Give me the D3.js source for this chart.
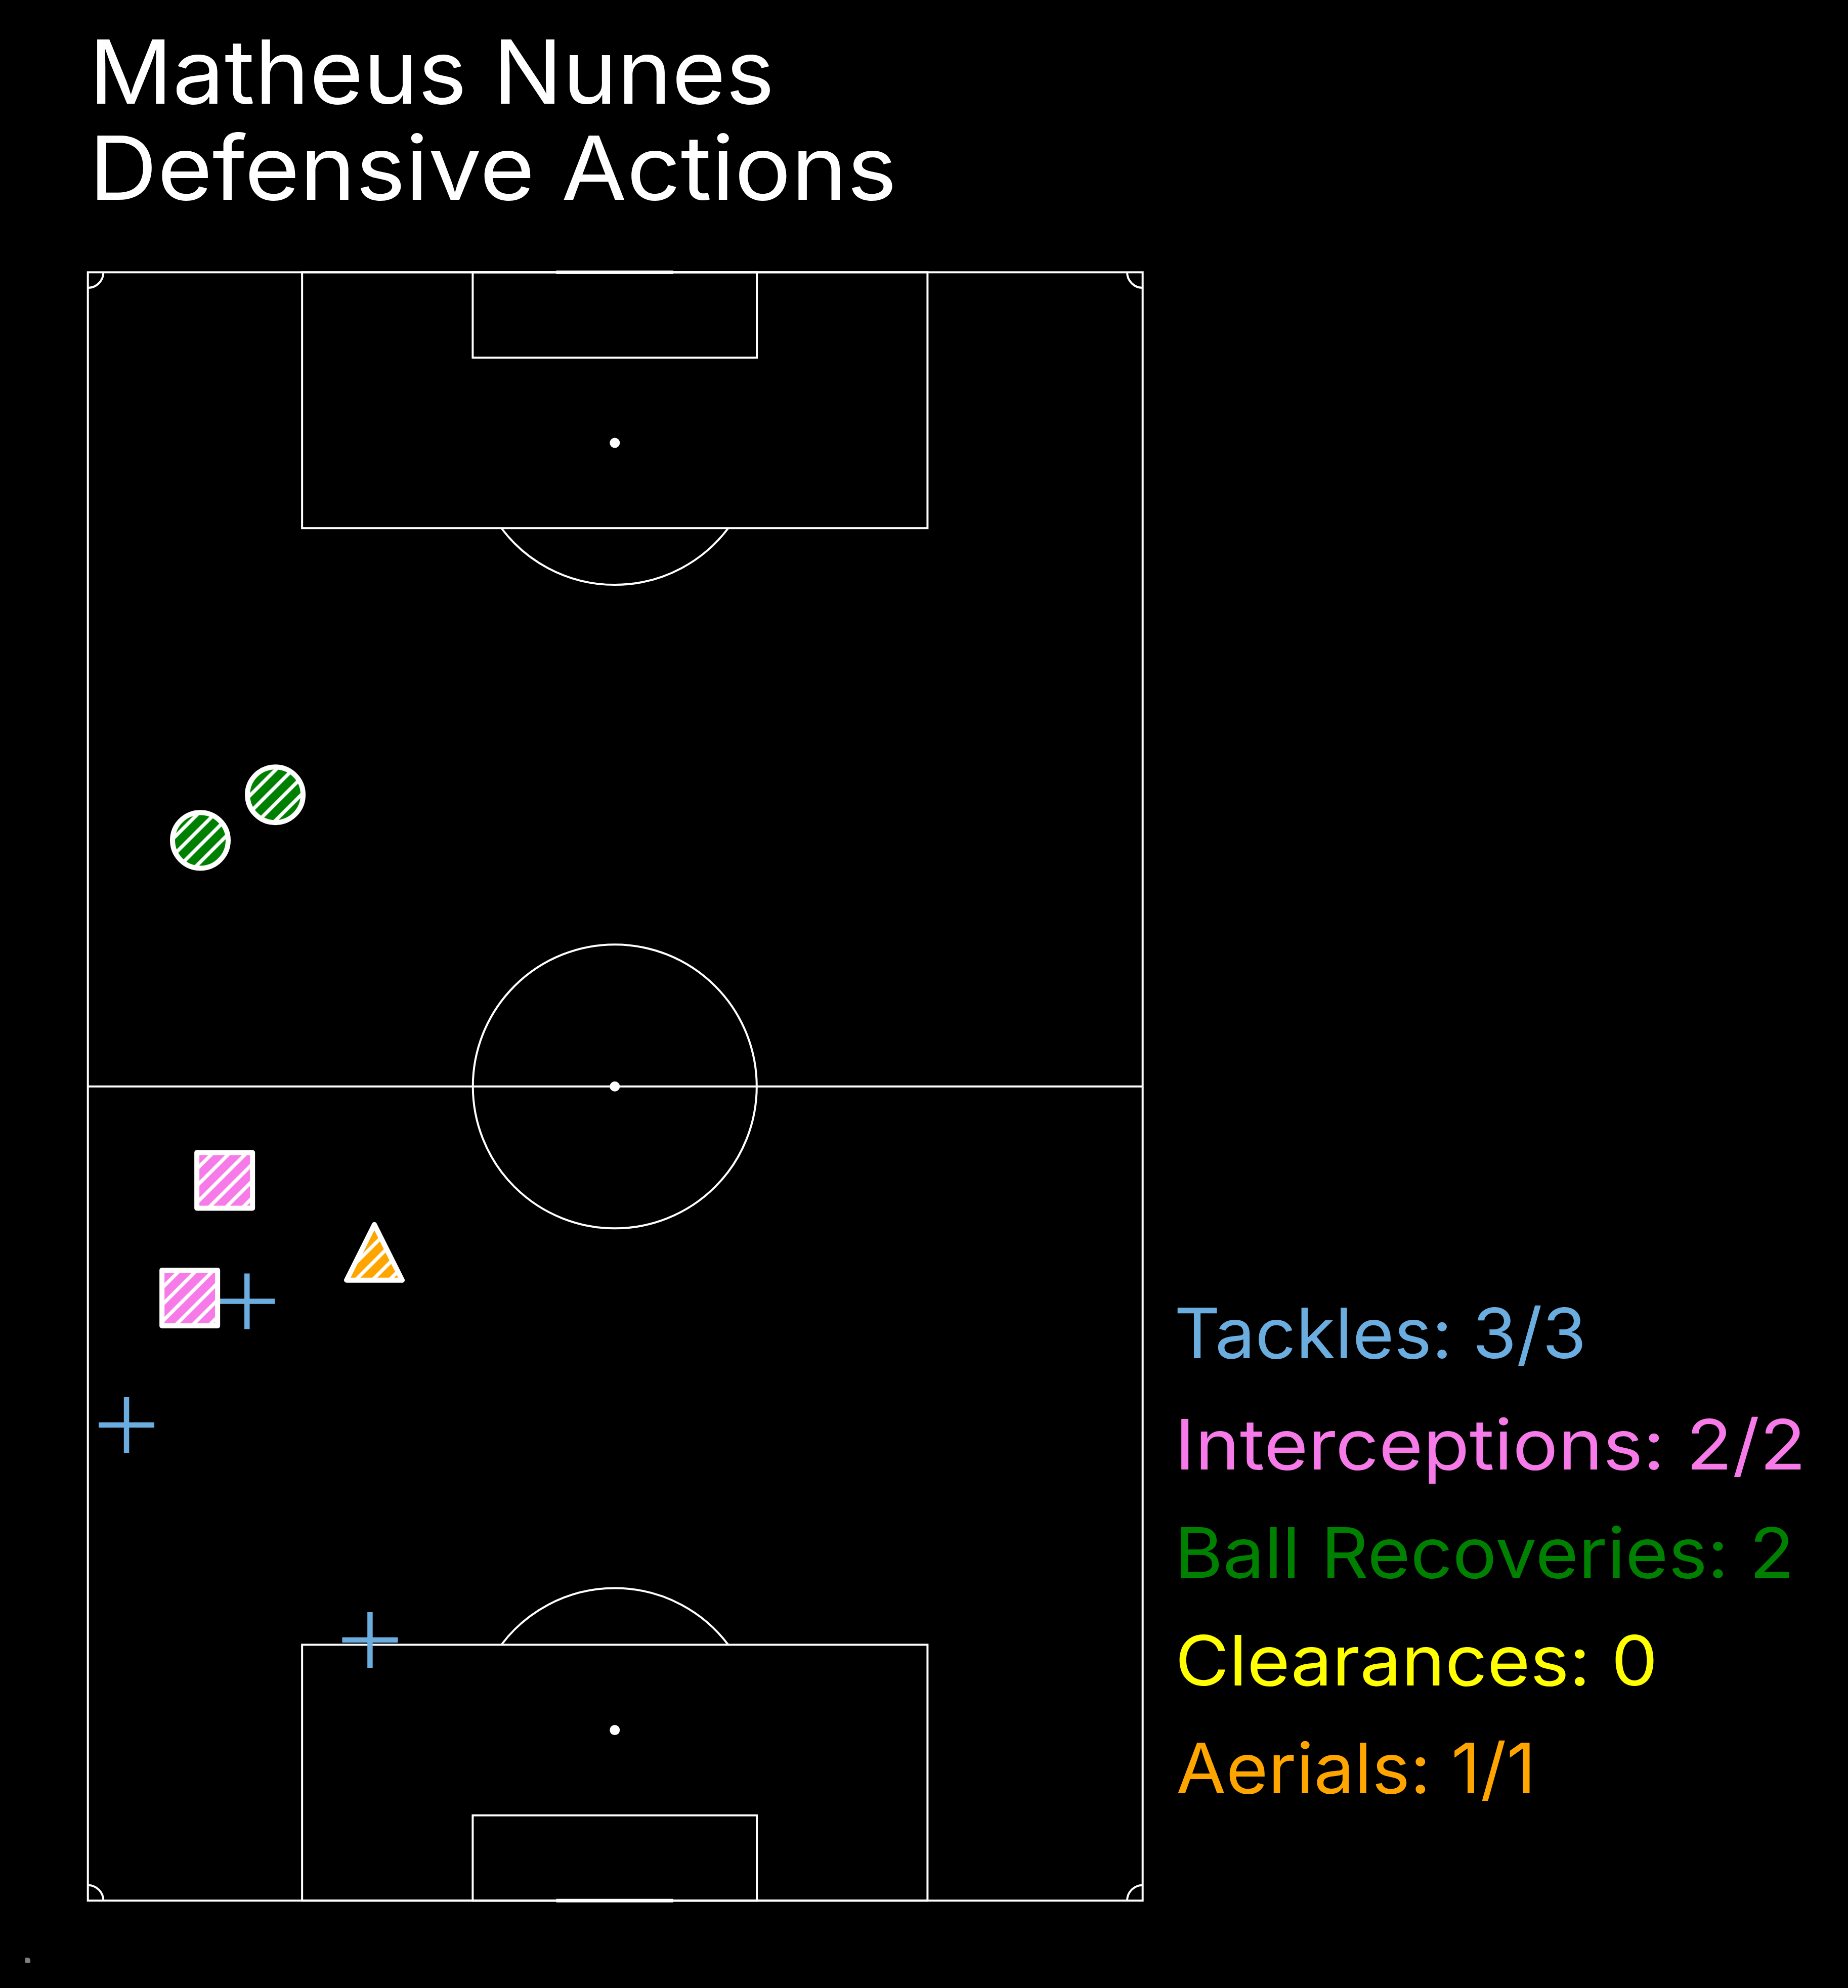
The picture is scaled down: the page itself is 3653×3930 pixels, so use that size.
<!DOCTYPE html>
<html>
<head>
<meta charset="utf-8">
<script src="https://cdn.jsdelivr.net/npm/d3@7"></script>
<style>
html, body { margin: 0; padding: 0; background: #000; }
svg { display: block; }
text { font-family: Inter, "Noto Sans", sans-serif; font-weight: 440; }
</style>
</head>
<body>
<div id="chart"></div>
<script>
// everything is in metres on a 105 x 68 pitch, attacking towards the top
var titleLines = ["Matheus Nunes", "Defensive Actions"];

var legendLabels = ["Tackles: 3/3", "Interceptions: 2/2", "Ball Recoveries: 2", "Clearances: 0", "Aerials: 1/1"];
var legendColors = ["#6cade0", "#f67ae8", "#008000", "#ffff00", "#ffa500"];

// [across, along] in metres
var tackles = [[10.26, 38.65], [2.49, 30.67], [18.19, 16.81]];
var interceptions = [[8.82, 46.44], [6.57, 38.86]];
var recoveries = [[7.25, 68.37], [12.08, 71.31]];
var aerials = [[18.47, 41.8]];

var pitchLength = 105;
var pitchWidth = 68;
var midAcross = 33.97; // boxes sit a hair left of the true centre in the picture
var penaltyDepth = 16.5;
var penaltyWide = 40.32;
var sixDepth = 5.5;
var sixWide = 18.32;
var goalWide = 7.32;
var spotDist = 11;
var circleR = 9.15;
var cornerR = 1;

var width = 3653;
var height = 3930;
var lineW = 4;
var markW = 10;

var x = d3.scaleLinear().domain([0, pitchWidth]).range([173.7, 2258.7]);
var y = d3.scaleLinear().domain([0, pitchLength]).range([3757.3, 538.3]);
var k = x(1) - x(0);

var svg = d3.select("#chart").append("svg")
    .attr("width", width)
    .attr("height", height);

svg.append("rect").attr("width", width).attr("height", height).attr("fill", "#000");

// hatch, lines sit on x + y = n * 33.33 of the whole picture
var hatch = 100 / 3;
var defs = svg.append("defs");
var pat = defs.append("pattern")
    .attr("id", "hatch")
    .attr("patternUnits", "userSpaceOnUse")
    .attr("width", hatch)
    .attr("height", hatch);
pat.append("path")
    .attr("d", "M-5,5L5,-5M0," + hatch + "L" + hatch + ",0M" + (hatch - 5) + "," + (hatch + 5) + "L" + (hatch + 5) + "," + (hatch - 5))
    .attr("stroke", "#fff")
    .attr("stroke-width", 7)
    .attr("fill", "none");

/******pitch******/
var pitch = svg.append("g")
    .attr("fill", "none")
    .attr("stroke", "#fff")
    .attr("stroke-width", lineW);

pitch.append("rect")
    .attr("x", x(0)).attr("y", y(pitchLength))
    .attr("width", x(pitchWidth) - x(0))
    .attr("height", y(0) - y(pitchLength));

pitch.append("line")
    .attr("x1", x(0)).attr("x2", x(pitchWidth))
    .attr("y1", y(pitchLength / 2)).attr("y2", y(pitchLength / 2));

pitch.append("circle")
    .attr("cx", x(midAcross)).attr("cy", y(pitchLength / 2))
    .attr("r", circleR * k);

// 0 is the bottom end, 1 the top end
function alongEnd(end, d) {
    return end ? y(pitchLength - d) : y(d);
}

[0, 1].forEach(function (end) {
    var mid = midAcross;
    var goalLine = alongEnd(end, 0);

    [[penaltyWide, penaltyDepth], [sixWide, sixDepth]].forEach(function (b) {
        var y1 = alongEnd(end, b[1]);
        pitch.append("rect")
            .attr("x", x(mid - b[0] / 2))
            .attr("y", Math.min(goalLine, y1))
            .attr("width", x(mid + b[0] / 2) - x(mid - b[0] / 2))
            .attr("height", Math.abs(y1 - goalLine));
    });

    // the D outside the box
    var off = penaltyDepth - spotDist;
    var ang = Math.acos(off / circleR);
    var arcPath = d3.path();
    var cy = alongEnd(end, spotDist);
    if (end) arcPath.arc(x(mid), cy, circleR * k, Math.PI / 2 - ang, Math.PI / 2 + ang);
    else arcPath.arc(x(mid), cy, circleR * k, -Math.PI / 2 - ang, -Math.PI / 2 + ang);
    pitch.append("path").attr("d", arcPath.toString());

    // spot
    svg.append("circle")
        .attr("cx", x(mid)).attr("cy", cy)
        .attr("r", 10).attr("fill", "#fff");

    // goal
    svg.append("line")
        .attr("x1", x(mid - goalWide / 2)).attr("x2", x(mid + goalWide / 2))
        .attr("y1", goalLine).attr("y2", goalLine)
        .attr("stroke", "#fff")
        .attr("stroke-width", 7)
        .attr("stroke-linecap", "square");

    // corners
    var sy = end ? 1 : -1;
    [[0, 1], [pitchWidth, -1]].forEach(function (c) {
        var p = d3.path();
        var r = cornerR * k;
        var cx = x(c[0]);
        p.moveTo(cx + c[1] * r, goalLine);
        p.arcTo(cx + c[1] * r, goalLine + sy * r, cx, goalLine + sy * r, r);
        pitch.append("path").attr("d", p.toString());
    });
});

svg.append("circle")
    .attr("cx", x(midAcross)).attr("cy", y(pitchLength / 2))
    .attr("r", 10).attr("fill", "#fff");

/******markers******/
function hatched(g, shape, color) {
    g.append("path").attr("d", shape)
        .attr("fill", color)
        .attr("stroke", "#fff")
        .attr("stroke-width", markW)
        .attr("stroke-linejoin", "round");
    g.append("path").attr("d", shape).attr("fill", "url(#hatch)");
}

function squarePath(d) {
    var p = d3.path();
    var cx = x(d[0]), cy = y(d[1]), h = 55;
    p.rect(cx - h, cy - h, 2 * h, 2 * h);
    return p.toString();
}

function trianglePath(d) {
    var p = d3.path();
    var cx = x(d[0]), cy = y(d[1]), h = 55;
    p.moveTo(cx, cy - h);
    p.lineTo(cx + h, cy + h);
    p.lineTo(cx - h, cy + h);
    p.closePath();
    return p.toString();
}

function circlePath(d) {
    var p = d3.path();
    p.arc(x(d[0]), y(d[1]), 55, 0, 2 * Math.PI);
    p.closePath();
    return p.toString();
}

function plusPath(d) {
    var p = d3.path();
    var cx = x(d[0]), cy = y(d[1]), h = 55;
    p.moveTo(cx - h, cy); p.lineTo(cx + h, cy);
    p.moveTo(cx, cy - h); p.lineTo(cx, cy + h);
    return p.toString();
}

svg.append("g").selectAll("path").data(tackles).enter().append("path")
    .attr("d", plusPath)
    .attr("fill", "none")
    .attr("stroke", legendColors[0])
    .attr("stroke-width", 10.5);

var markers = svg.append("g");
recoveries.forEach(function (d) { hatched(markers, circlePath(d), legendColors[2]); });
interceptions.forEach(function (d) { hatched(markers, squarePath(d), legendColors[1]); });
aerials.forEach(function (d) { hatched(markers, trianglePath(d), legendColors[4]); });

/******text******/
var titleLeft = [176, 176];
var titleRun = [1355, 1597];
var titleSize = 175;
svg.selectAll(".title").data(titleLines).enter().append("text")
    .attr("class", "title")
    .attr("x", function (d, i) { return titleLeft[i]; })
    .attr("y", function (d, i) { return 205 + i * 190; })
    .attr("font-size", titleSize)
    .attr("fill", "#fff")
    .attr("textLength", function (d, i) { return titleRun[i]; })
    .attr("lengthAdjust", "spacingAndGlyphs")
    .text(function (d) { return d; });

var legendLeft = [2321, 2322, 2322, 2323, 2325];
var legendRun = [815, 1248, 1225, 954, 711];
var legendBase = [2685, 2905, 3119, 3332, 3545];
svg.selectAll(".legend").data(legendLabels).enter().append("text")
    .attr("class", "legend")
    .attr("x", function (d, i) { return legendLeft[i]; })
    .attr("y", function (d, i) { return legendBase[i]; })
    .attr("font-size", 137)
    .attr("fill", function (d, i) { return legendColors[i]; })
    .attr("textLength", function (d, i) { return legendRun[i]; })
    .attr("lengthAdjust", "spacingAndGlyphs")
    .text(function (d) { return d; });

// tiny speck bottom left
svg.append("path")
    .attr("d", "M50,3880V3870H55A5,5 0 0 1 60,3875V3880Z")
    .attr("fill", "#7f7f7f");
</script>
</body>
</html>
